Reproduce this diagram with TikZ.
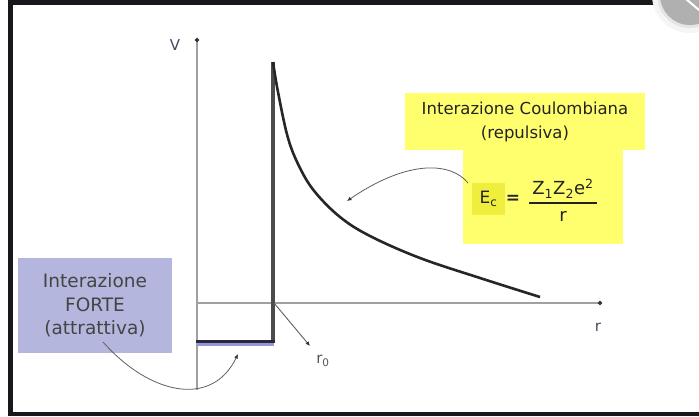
\documentclass[tikz,border=0pt]{standalone}
\usepackage{fontspec}
\setmainfont{DejaVu Sans}
\usetikzlibrary{arrows.meta}
\definecolor{frame}{RGB}{24,24,28}
\definecolor{ylw}{RGB}{255,255,110}
\definecolor{ylwdark}{RGB}{240,238,60}
\definecolor{lav}{RGB}{180,182,222}
\definecolor{axisgray}{RGB}{160,160,160}
\definecolor{txt}{RGB}{35,35,35}
\definecolor{lbl}{RGB}{70,72,95}
\definecolor{navy}{RGB}{40,40,64}
\definecolor{wellblue}{RGB}{150,150,215}
\tikzset{
  axisline/.style={draw=axisgray, line width=1.8pt, -{Circle[length=4pt,color=black!80]}},
  callout/.style={draw=gray!75!black, line width=0.8pt, -{Latex[length=4.5pt,width=4pt,color=black!80]}},
  ybox/.style={fill=ylw, inner sep=0pt},
  lbltext/.style={text=lbl, font=\fontsize{15}{18}\selectfont},
}
\begin{document}
\begin{tikzpicture}[x=1pt,y=-1pt]
\useasboundingbox (0,0) rectangle (699,416);
\fill[white] (0,0) rectangle (699,416);
% screenshot frame
\fill[frame] (8,0) rectangle (13,416);
\fill[frame] (8,0) rectangle (692,5);
\fill[frame] (8,412) rectangle (699,416);
\fill[gray!8] (690,-5) circle (38);
\fill[gray!20] (690,-5) circle (33);
\fill[gray!62] (690,-5) circle (30);
\draw[white, line width=2pt] (686,-1) -- (699,10);
% boxes
\node[ybox, minimum width=240pt, minimum height=57pt, align=center, text=txt,
      font=\fontsize{16.5}{24}\selectfont] (coul) at (525,121.5)
      {Interazione Coulombiana\\(repulsiva)};
\node[ybox, minimum width=160pt, minimum height=94pt] (ylow) at (543,197) {};
\node[fill=ylwdark, minimum width=33pt, minimum height=32pt, inner sep=0pt, text=txt,
      font=\fontsize{17}{20}\selectfont] (Ec) at (488.5,199) {E\textsubscript{c}};
\node[text=txt, font=\fontsize{17}{20}\selectfont\bfseries] (eq) at (513,199) {=};
\node[text=txt, inner sep=0pt, font=\fontsize{18}{22}\selectfont] (frac) at (563,203)
  {\setlength{\tabcolsep}{3pt}\setlength{\arrayrulewidth}{1.2pt}\renewcommand{\arraystretch}{1.15}%
   \begin{tabular}{c}Z\textsubscript{1}Z\textsubscript{2}e\textsuperscript{2}\\\hline r\end{tabular}};
\node[fill=lav, minimum width=154pt, minimum height=95pt, align=center, text=txt!85,
      font=\fontsize{18.5}{23.5}\selectfont] (forte) at (95,305.5)
      {Interazione\\FORTE\\(attrattiva)};
% axes
\coordinate (O) at (197,303);
\coordinate (Vbot) at (197,390);
\coordinate (Vtop) at (197,38);
\coordinate (Rend) at (602,303);
\draw[axisline] (Vbot) -- (Vtop);
\draw[axisline] (O) -- (Rend);
\node[lbltext] (Vl) at (175,45) {V};
\node[lbltext] (rl) at (598,327) {r};
% potential
\coordinate (wtop) at (273,62);
\coordinate (wbot) at (273,341);
\coordinate (wleft) at (197,341);
\draw[wellblue, line width=3.5pt] (197,344) -- (274,344);
\draw[black!70, line width=3.5pt] (wtop) -- (wbot);
\draw[navy, line width=3pt, line cap=rect] (wleft) -- (wbot);
\draw[black!85, line width=2.6pt] plot[smooth, tension=0.6] coordinates
  {(273,62) (278,92) (288,138) (300,168) (315,192) (340,217) (370,236) (420,258) (480,278) (540,297)};
% r0
\coordinate (r0pt) at (274,303);
\node[text=lbl!80!brown, font=\fontsize{15}{18}\selectfont, inner sep=1pt] (r0) at (323,361) {r\textsubscript{0}};
\coordinate (r0tip) at (310,346);
\draw[callout, line width=0.9pt] (r0pt) -- (r0tip);
% callouts
\coordinate (cstart) at (468,183);
\coordinate (cend) at (347,201);
\draw[callout] (cstart) .. controls (452,163) and (410,158) .. (cend);
\coordinate (fstart) at (103,342);
\coordinate (fend) at (238,354);
\draw[callout] (fstart) .. controls (150,395) and (212,408) .. (fend);
\end{tikzpicture}
\end{document}
